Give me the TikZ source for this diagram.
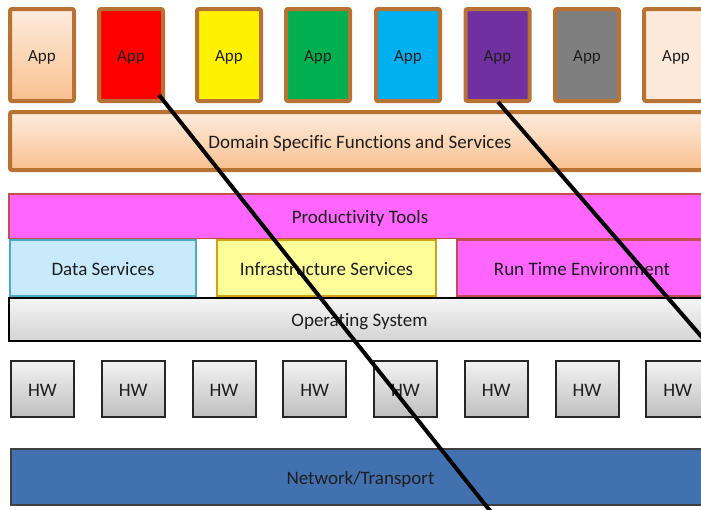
\documentclass[tikz,border=0pt]{standalone}
\usepackage{fontspec}
\setmainfont{Carlito}[Ligatures=NoCommon]
\usetikzlibrary{calc}
\definecolor{brd}{RGB}{184,114,52}
\definecolor{peachT}{RGB}{253,236,222}
\definecolor{peachB}{RGB}{250,192,143}
\definecolor{magent}{RGB}{255,102,255}
\definecolor{redbrd}{RGB}{192,80,77}
\definecolor{dsfill}{RGB}{200,234,250}
\definecolor{dsbrd}{RGB}{75,172,198}
\definecolor{infill}{RGB}{255,255,153}
\definecolor{inbrd}{RGB}{212,160,23}
\definecolor{netfill}{RGB}{66,113,176}
\definecolor{txt}{RGB}{30,30,30}
\begin{document}
\begin{tikzpicture}[x=1pt,y=-1pt,
  box/.style={draw, inner sep=0pt, text=txt, font=\fontsize{19}{22}\selectfont,
    text height=14pt, text depth=0pt},
  app/.style={box, draw=brd, line width=4pt, rounded corners=2pt,
    minimum width=64pt, minimum height=92pt, font=\fontsize{17}{20}\selectfont, text height=13pt},
  bar/.style={box, line width=1.5pt},
  hw/.style={box, draw=black!85, line width=2pt, minimum width=63pt, minimum height=56pt,
    top color=black!5, bottom color=black!25},
  cut/.style={draw=black, line width=4pt}]
\useasboundingbox (0,0) rectangle (701,509);
\clip (0,0) rectangle (701,509);
\fill[white] (0,0) rectangle (701,509);
% apps
\node[app, top color=peachT, bottom color=peachB] (a1) at (42,55) {App};
\node[app, fill=red] (a2) at (131,55) {App};
\node[app, fill=yellow] (a3) at (229,55) {App};
\node[app, fill={rgb,255:red,0;green,176;blue,80}] (a4) at (318,55) {App};
\node[app, fill={rgb,255:red,0;green,176;blue,240}] (a5) at (408,55) {App};
\node[app, fill={rgb,255:red,112;green,48;blue,160}] (a6) at (497.5,55) {App};
\node[app, fill={rgb,255:red,127;green,127;blue,127}] (a7) at (587,55) {App};
\node[app, fill={rgb,255:red,253;green,233;blue,217}] (a8) at (676,55) {App};
% domain
\node[box, draw=brd, line width=4pt, rounded corners=2pt, minimum width=700pt, minimum height=58pt,
  top color=peachT, bottom color=peachB] (dom) at (360,141) {Domain Specific Functions and Services};
% OS
\node[box, draw=black, line width=2pt, minimum width=701pt, minimum height=43pt,
  top color=black!4, bottom color=black!17] (os) at (359.5,319.5) {Operating System};
% middle row
\node[bar, draw=dsbrd, fill=dsfill, minimum width=186pt, minimum height=56pt] (ds) at (103,268) {Data Services};
\node[bar, draw=inbrd, fill=infill, minimum width=219pt, minimum height=56pt] (inf) at (326.5,268) {Infrastructure Services};
\node[bar, draw=redbrd, fill=magent, minimum width=250pt, minimum height=56pt] (rte) at (582,268) {Run Time Environment};
% productivity
\node[bar, draw=redbrd, fill=magent, minimum width=702.5pt, minimum height=44.5pt] (pt) at (360,216) {Productivity Tools};
% HW
\foreach \i in {0,...,7} {
  \node[hw] (hw\i) at ({42.5+90.75*\i},389) {HW};
}
% network
\node[bar, draw=black!75, fill=netfill, minimum width=699pt, minimum height=56pt] (net) at (360.5,477) {Network/Transport};
% cut lines
\coordinate (c1a) at ($(a2.south east)+(-6,-8)$);
\coordinate (c1b) at (491,512);
\coordinate (c2a) at ($(a6.south)+(0.5,-1)$);
\coordinate (c2b) at (720,358);
\draw[cut] (c1a) -- (c1b);
\draw[cut] (c2a) -- (c2b);
\end{tikzpicture}
\end{document}
